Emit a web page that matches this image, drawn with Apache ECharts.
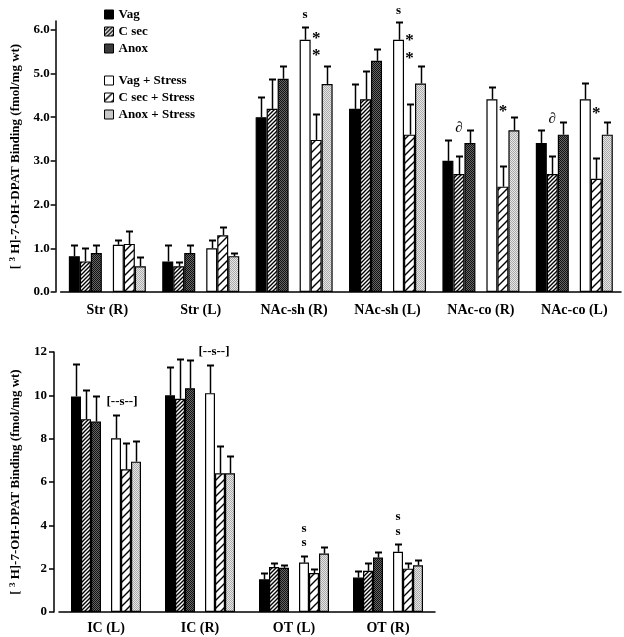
<!DOCTYPE html>
<html>
<head>
<meta charset="utf-8">
<script src="https://cdn.jsdelivr.net/npm/echarts@6/dist/echarts.min.js"></script>
<style>
html,body{margin:0;padding:0;background:#fff;}
#main{width:624px;height:637px;}
</style>
</head>
<body>
<div id="main"></div>
<script>
// ---------- DATA ----------
const seriesNames = ['Vag', 'C sec', 'Anox', 'Vag + Stress', 'C sec + Stress', 'Anox + Stress'];

const categoriesTop = ['Str (R)', 'Str (L)', 'NAc-sh (R)', 'NAc-sh (L)', 'NAc-co (R)', 'NAc-co (L)'];
const vagTop          = [0.82, 0.70, 4.00, 4.19, 3.00, 3.41];
const csecTop         = [0.70, 0.59, 4.19, 4.41, 2.70, 2.70];
const anoxTop         = [0.89, 0.89, 4.88, 5.29, 3.41, 3.60];
const vagStressTop    = [1.08, 1.00, 5.77, 5.77, 4.41, 4.41];
const csecStressTop   = [1.10, 1.30, 3.48, 3.60, 2.41, 2.59];
const anoxStressTop   = [0.59, 0.82, 4.76, 4.77, 3.70, 3.60];
const vagTopErr        = [0.26, 0.38, 0.47, 0.57, 0.48, 0.29];
const csecTopErr       = [0.30, 0.10, 0.68, 0.65, 0.42, 0.42];
const anoxTopErr       = [0.19, 0.19, 0.30, 0.28, 0.29, 0.29];
const vagStressTopErr  = [0.10, 0.18, 0.29, 0.41, 0.28, 0.37];
const csecStressTopErr = [0.30, 0.18, 0.60, 0.70, 0.48, 0.48];
const anoxStressTopErr = [0.21, 0.07, 0.42, 0.41, 0.30, 0.30];
const yTicksTop = [0, 1, 2, 3, 4, 5, 6];

const categoriesBottom = ['IC (L)', 'IC (R)', 'OT (L)', 'OT (R)'];
const vagBottom          = [9.95, 10.00, 1.51, 1.59];
const csecBottom         = [8.90, 9.84, 2.08, 1.90];
const anoxBottom         = [8.79, 10.33, 2.04, 2.51];
const vagStressBottom    = [8.02, 10.10, 2.28, 2.78];
const csecStressBottom   = [6.59, 6.40, 1.80, 2.00];
const anoxStressBottom   = [6.94, 6.40, 2.70, 2.16];
const vagBottomErr        = [1.50, 1.29, 0.29, 0.31];
const csecBottomErr       = [1.36, 1.85, 0.20, 0.38];
const anoxBottomErr       = [1.16, 1.32, 0.12, 0.24];
const vagStressBottomErr  = [1.08, 1.31, 0.31, 0.34];
const csecStressBottomErr = [1.23, 1.28, 0.20, 0.27];
const anoxStressBottomErr = [0.96, 0.80, 0.30, 0.26];

// annotations: category index, value, bar slot (0-2 unstressed, 4-6 stressed), text
const annotTopCat   = [2, 2, 2, 3, 3, 3, 4, 4, 5, 5];
const annotTopVal   = [6.34, 5.90, 5.49, 6.43, 5.85, 5.44, 3.75, 4.22, 3.95, 4.17];
const annotTopSlot  = [4, 5, 5, 4, 5, 5, 1, 5, 1, 5];
const annotTopText  = ['s', '*', '*', 's', '*', '*', '∂', '*', '∂', '*'];
const annotBotCat   = [0, 1, 2, 2, 3, 3];
const annotBotVal   = [9.7, 12.0, 3.83, 3.18, 4.38, 3.69];
const annotBotSlot  = [4.6, 4.4, 4, 4, 4, 4];
const annotBotText  = ['[--s--]', '[--s--]', 's', 's', 's', 's'];

// ---------- STYLE ----------
const FONT = 'Liberation Serif';
function hatchPattern(p, lw) {
  const c = document.createElement('canvas');
  c.width = p; c.height = p;
  const g = c.getContext('2d');
  g.fillStyle = '#fff'; g.fillRect(0, 0, p, p);
  g.strokeStyle = '#000'; g.lineWidth = lw;
  g.beginPath();
  g.moveTo(-1, p + 1); g.lineTo(p + 1, -1);
  g.moveTo(-1, 1); g.lineTo(1, -1);
  g.moveTo(p - 1, p + 1); g.lineTo(p + 1, p - 1);
  g.stroke();
  return { image: c, repeat: 'repeat' };
}
function stipple(a, b) {
  const c = document.createElement('canvas');
  c.width = 2; c.height = 2;
  const g = c.getContext('2d');
  g.fillStyle = a; g.fillRect(0, 0, 2, 2);
  g.fillStyle = b; g.fillRect(0, 0, 1, 1); g.fillRect(1, 1, 1, 1);
  return { image: c, repeat: 'repeat' };
}
const fills = [
  '#000',
  hatchPattern(4, 1.4),
  stipple('#666', '#111'),
  '#fff',
  hatchPattern(8, 1.4),
  stipple('#e6e6e6', '#aaa')
];

const topVals = [vagTop, csecTop, anoxTop, vagStressTop, csecStressTop, anoxStressTop];
const topErrs = [vagTopErr, csecTopErr, anoxTopErr, vagStressTopErr, csecStressTopErr, anoxStressTopErr];
const botVals = [vagBottom, csecBottom, anoxBottom, vagStressBottom, csecStressBottom, anoxStressBottom];
const botErrs = [vagBottomErr, csecBottomErr, anoxBottomErr, vagStressBottomErr, csecStressBottomErr, anoxStressBottomErr];
const barW = [11, 10];

const series = [];
function addGrid(g, vals, errs, aCat, aVal, aSlot, aText) {
  const bw = barW[g];
  for (let s = 0; s < 6; s++) {
    if (s === 3) {
      series.push({
        name: '_gap', type: 'bar', xAxisIndex: g, yAxisIndex: g,
        data: vals[0].map(() => null), barWidth: bw, barGap: '0%', silent: true
      });
    }
    series.push({
      name: seriesNames[s], type: 'bar', xAxisIndex: g, yAxisIndex: g,
      data: vals[s], barWidth: bw, barGap: '0%',
      itemStyle: { color: fills[s], borderColor: '#000', borderWidth: 1.2 }
    });
  }
  const errData = [];
  for (let s = 0; s < 6; s++) {
    const slot = s < 3 ? s : s + 1;
    vals[s].forEach((v, i) => errData.push([i, v, v + errs[s][i], slot]));
  }
  series.push({
    type: 'custom', xAxisIndex: g, yAxisIndex: g, z: 5, silent: true,
    data: errData, encode: { x: 0, y: 1 },
    renderItem: function (params, api) {
      const b = api.coord([api.value(0), api.value(1)]);
      const t = api.coord([api.value(0), api.value(2)]);
      const cx = Math.round(b[0] + (api.value(3) - 3) * bw) + 0.5;
      const ty = Math.round(t[1]) + 0.5;
      return {
        type: 'group',
        children: [
          { type: 'line', shape: { x1: cx, y1: b[1], x2: cx, y2: ty }, style: { stroke: '#000', lineWidth: 1.5 } },
          { type: 'line', shape: { x1: cx - 3.5, y1: ty, x2: cx + 3.5, y2: ty }, style: { stroke: '#000', lineWidth: 2 } }
        ]
      };
    }
  });
  const annData = aCat.map((c, i) => [c, aVal[i], aSlot[i]]);
  series.push({
    type: 'custom', xAxisIndex: g, yAxisIndex: g, z: 6, silent: true,
    data: annData, encode: { x: 0, y: 1 },
    renderItem: function (params, api) {
      const p = api.coord([api.value(0), api.value(1)]);
      const txt = aText[params.dataIndex];
      const size = txt === '*' ? 17 : (txt === '∂' ? 15 : 13);
      return {
        type: 'text',
        style: {
          text: txt, x: p[0] + (api.value(2) - 3) * bw, y: p[1] + (txt === '*' ? 4 : 0),
          align: 'center', verticalAlign: 'middle',
          font: 'bold ' + size + 'px ' + FONT, fill: '#000'
        }
      };
    }
  });
}
addGrid(0, topVals, topErrs, annotTopCat, annotTopVal, annotTopSlot, annotTopText);
addGrid(1, botVals, botErrs, annotBotCat, annotBotVal, annotBotSlot, annotBotText);

const axisLineStyle = { color: '#000', width: 1.5 };
const yName = '[ {sup|3} H]-7-OH-DPAT Binding (fmol/mg wt)';
const yNameStyle = {
  fontFamily: FONT, fontWeight: 'bold', fontSize: 13, color: '#000',
  rich: { sup: { fontFamily: FONT, fontWeight: 'bold', fontSize: 9, color: '#000', padding: [0, 0, 7, 0] } }
};
const legendCommon = {
  orient: 'vertical', left: 99, itemWidth: 9, itemHeight: 9, itemGap: 4,
  icon: 'rect', selectedMode: false,
  textStyle: { fontFamily: FONT, fontWeight: 'bold', fontSize: 13, color: '#000' },
  itemStyle: { borderColor: '#000', borderWidth: 1 }
};

const option = {
  backgroundColor: '#fff',
  animation: false,
  legend: [
    Object.assign({}, legendCommon, { top: 3, data: seriesNames.slice(0, 3) }),
    Object.assign({}, legendCommon, { top: 69, data: seriesNames.slice(3) })
  ],
  grid: [
    { left: 55, right: 3, top: 21, height: 271 },
    { left: 55, width: 380, top: 352, height: 260 }
  ],
  xAxis: [
    {
      type: 'category', gridIndex: 0, data: categoriesTop,
      axisLine: { lineStyle: axisLineStyle },
      axisTick: { alignWithLabel: true, length: 5, lineStyle: axisLineStyle },
      axisLabel: { margin: 11, fontFamily: FONT, fontWeight: 'bold', fontSize: 14, color: '#000' },
      splitLine: { show: false }
    },
    {
      type: 'category', gridIndex: 1, data: categoriesBottom,
      axisLine: { lineStyle: axisLineStyle },
      axisTick: { alignWithLabel: true, length: 5, lineStyle: axisLineStyle },
      axisLabel: { margin: 9, fontFamily: FONT, fontWeight: 'bold', fontSize: 14, color: '#000' },
      splitLine: { show: false }
    }
  ],
  yAxis: [
    {
      type: 'value', gridIndex: 0, min: 0, max: 6.2, interval: 1, offset: 5,
      name: yName, nameLocation: 'middle', nameGap: 30, nameTextStyle: yNameStyle,
      axisLine: { show: true, lineStyle: axisLineStyle },
      axisTick: { show: true, length: 5, lineStyle: axisLineStyle, customValues: yTicksTop },
      axisLabel: { margin: 6, fontFamily: FONT, fontWeight: 'bold', fontSize: 13, color: '#000',
        customValues: yTicksTop, formatter: v => v.toFixed(1) },
      splitLine: { show: false }
    },
    {
      type: 'value', gridIndex: 1, min: 0, max: 12, interval: 2, offset: 5,
      name: yName, nameLocation: 'middle', nameGap: 30, nameTextStyle: yNameStyle,
      axisLine: { show: true, lineStyle: axisLineStyle },
      axisTick: { show: true, length: 5, lineStyle: axisLineStyle },
      axisLabel: { margin: 7, fontFamily: FONT, fontWeight: 'bold', fontSize: 13, color: '#000' },
      splitLine: { show: false }
    }
  ],
  series: series
};
const chart = echarts.init(document.getElementById('main'), null, { renderer: 'canvas' });
chart.setOption(option);
</script>
</body>
</html>
